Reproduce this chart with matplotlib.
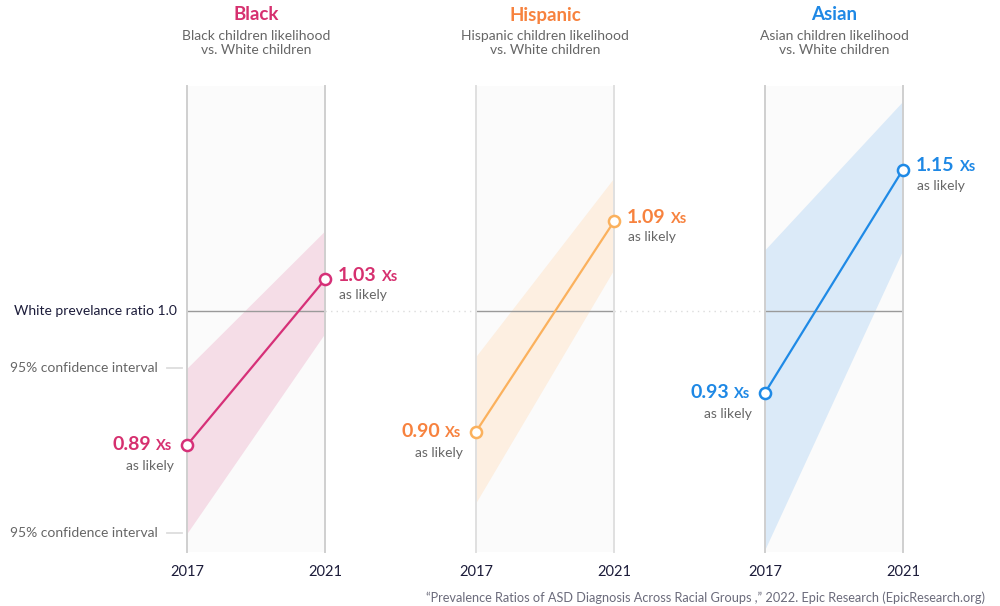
import numpy as np
import matplotlib
matplotlib.use("Agg")
import matplotlib.pyplot as plt
import matplotlib.transforms as mtransforms

plt.rcParams['font.family'] = ['Lato', 'DejaVu Sans']

# data
groups = ["Black", "Hispanic", "Asian"]
years = [2017, 2021]
ratio_black = [0.89, 1.03]
ratio_hispanic = [0.90, 1.09]
ratio_asian = [0.93, 1.15]
ci_low_black = [0.83, 0.98]
ci_high_black = [0.95, 1.08]
ci_low_hispanic = [0.85, 1.04]
ci_high_hispanic = [0.96, 1.14]
ci_low_asian = [0.82, 1.06]
ci_high_asian = [1.06, 1.24]
white_ratio = 1.0

ratios = [ratio_black, ratio_hispanic, ratio_asian]
ci_low = [ci_low_black, ci_low_hispanic, ci_low_asian]
ci_high = [ci_high_black, ci_high_hispanic, ci_high_asian]

title_colors = ["#d6306f", "#f7823e", "#1e88e5"]
line_colors = ["#d63078", "#fbb15d", "#1f8ae6"]
band_colors = ["#f5dde7", "#fdefe1", "#dbeaf8"]
spine_colors = ["#cfcfcf", "#e0e0e0", "#cfcfcf"]

navy = "#1c1c3a"
grey = "#666666"

W, H = 1000, 606
fig = plt.figure(figsize=(W / 100, H / 100), dpi=100)

panel_left = [187, 476, 765]
panel_w = 138
top, bottom = 86, 552

# ratio axis spaced on 1 - 1/r
fwd = lambda y: 1 - 1 / y
inv = lambda u: 1 / (1 - u)

axes = []
for i, g in enumerate(groups):
    ax = fig.add_axes([panel_left[i] / W, (H - bottom) / H, panel_w / W, (bottom - top) / H])
    axes.append(ax)
    ax.set_facecolor("#fbfbfb")
    ax.set_yscale("function", functions=(fwd, inv))
    ax.set_xlim(years[0], years[1])
    ax.set_ylim(0.8183, 1.2617)
    for s in ["top", "bottom"]:
        ax.spines[s].set_visible(False)
    for s in ["left", "right"]:
        ax.spines[s].set_color(spine_colors[i])
        ax.spines[s].set_linewidth(1.4)
    ax.minorticks_off()
    ax.set_yticks([])
    ax.set_xticks(years)
    ax.set_xticklabels([str(y) for y in years], fontsize=10.5, color=navy)
    ax.tick_params(axis="x", length=0, pad=9)
    ax.tick_params(axis="y", which="both", left=False, labelleft=False)

    ax.fill_between(years, ci_low[i], ci_high[i], color=band_colors[i], lw=0, zorder=1)
    ax.axhline(white_ratio, color="#9a9a9a", lw=1, zorder=2)
    if i < len(groups) - 1:
        gap = (panel_left[i + 1] - panel_left[i]) / panel_w
        ax.axhline(white_ratio, xmin=1.0, xmax=gap, color="#dcdcdc", lw=1,
                   ls=(0, (1, 3)), clip_on=False, zorder=0)
    ax.plot(years, ratios[i], color=line_colors[i], lw=1.6, zorder=3)
    ax.plot(years, ratios[i], "o", ms=8, mfc="white", mec=line_colors[i], mew=1.8,
            zorder=4, clip_on=False)

    # titles
    ax.annotate(g, xy=(0.5, 1), xycoords="axes fraction", xytext=(0, 71),
                textcoords="offset pixels", ha="center", va="center",
                fontsize=13.5, fontweight="bold", color=title_colors[i])
    ax.annotate(f"{g} children likelihood\nvs. White children", xy=(0.5, 1),
                xycoords="axes fraction", xytext=(0, 43), textcoords="offset pixels",
                ha="center", va="center", fontsize=10, color=grey, linespacing=1.1)

    # value labels
    v0, v1 = ratios[i]
    num = ax.annotate(f"{v1:.2f}", xy=(years[1], v1), xytext=(13, 4),
                      textcoords="offset pixels", ha="left", va="center",
                      fontsize=14, fontweight="bold", color=title_colors[i],
                      annotation_clip=False)
    ax.annotate("Xs", xy=(1, 0), xycoords=num, xytext=(5, 0), textcoords="offset pixels",
                ha="left", va="bottom", fontsize=10.5, fontweight="bold",
                color=title_colors[i])
    ax.annotate("as likely", xy=(years[1], v1), xytext=(14, -16),
                textcoords="offset pixels", ha="left", va="center",
                fontsize=10, color=grey, annotation_clip=False)

    xs = ax.annotate("Xs", xy=(years[0], v0), xytext=(-15, -1),
                     textcoords="offset pixels", ha="right", va="center",
                     fontsize=10.5, fontweight="bold", color=title_colors[i],
                     annotation_clip=False)
    ax.annotate(f"{v0:.2f}", xy=(0, 0), xycoords=xs, xytext=(-5, 0),
                textcoords="offset pixels", ha="right", va="bottom",
                fontsize=14, fontweight="bold", color=title_colors[i])
    ax.annotate("as likely", xy=(years[0], v0), xytext=(-13, -21),
                textcoords="offset pixels", ha="right", va="center",
                fontsize=10, color=grey, annotation_clip=False)

# left-side guide labels on the first panel
ax = axes[0]
trans = mtransforms.blended_transform_factory(ax.transAxes, ax.transData)
ax.text(-10 / panel_w, white_ratio, "White prevelance ratio 1.0", transform=trans,
        ha="right", va="center", fontsize=10, color=navy)
for v in [ci_high_black[0], ci_low_black[0]]:
    ax.text(-29 / panel_w, v, "95% confidence interval", transform=trans,
            ha="right", va="center", fontsize=10, color=grey)
    ax.plot([-20 / panel_w, -5 / panel_w], [v, v], transform=trans, color="#dddddd",
            lw=1.3, clip_on=False)

fig.text(985 / W, 1 - 598 / H,
         "\u201cPrevalence Ratios of ASD Diagnosis Across Racial Groups ,\u201d 2022. "
         "Epic Research (EpicResearch.org)",
         ha="right", va="center", fontsize=9.2, color="#6b6b7b")

fig.savefig("out.png", dpi=100, facecolor="white")
